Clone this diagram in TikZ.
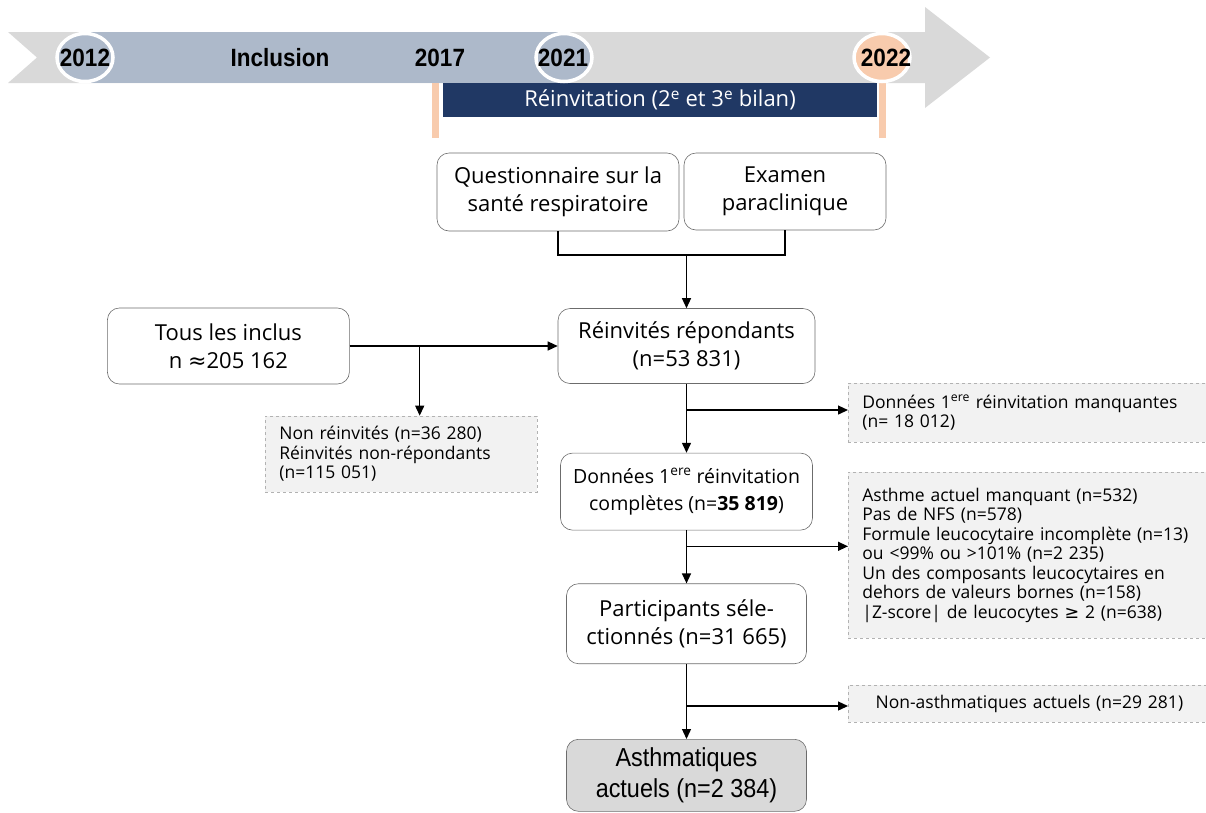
\documentclass[tikz,border=0pt]{standalone}
\usepackage{fontspec}
\setmainfont{Open Sans}
\newfontfamily\yearfont[FakeStretch=0.9]{Liberation Sans}
\newfontfamily\symfont{DejaVu Sans}
\usepackage{tikz}
\usetikzlibrary{positioning}
\usetikzlibrary{calc}
\usetikzlibrary{arrows.meta}
\definecolor{bandgray}{HTML}{D9D9D9}
\definecolor{inclblue}{HTML}{ADB9CA}
\definecolor{navy}{HTML}{203864}
\definecolor{peach}{HTML}{F8CBAD}
\definecolor{boxgray}{HTML}{F2F2F2}
\newcommand{\bigtxt}{\fontsize{22}{28}\selectfont}
\newcommand{\smalltxt}{\fontsize{17.5}{19.5}\selectfont}
\newcommand{\yeartxt}{\yearfont\bfseries\fontsize{25}{28}\selectfont}

\begin{document}
\begin{tikzpicture}[x=1pt, y=-1pt, >={Triangle[length=10pt, width=9pt]},
  mainbox/.style={draw=gray!85!black, line width=0.6pt, rounded corners=12pt, fill=white, align=center, font=\bigtxt, inner sep=0pt},
  sidebox/.style={draw=gray!60, dashed, line width=0.7pt, fill=boxgray, align=left, font=\smalltxt, inner xsep=14pt, inner ysep=0pt, anchor=west},
  flow/.style={line width=1.3pt},
  yearlbl/.style={font=\yeartxt, inner sep=0pt}]
\useasboundingbox (0,0) rectangle (1206,812);
% timeline
\fill[bandgray] (8,32) -- (925,32) -- (925,7) -- (990,57.5) -- (925,108) -- (925,83) -- (8,83) -- (37,57.5) -- cycle;
\fill[inclblue] (87,32) rectangle (564,83);
\fill[peach] (432,83) rectangle (439,138);
\fill[peach] (879,83) rectangle (886,138);
\fill[navy] (443,83) rectangle (877,117);
\filldraw[draw=white, line width=3.5pt, fill=inclblue] (85,57.5) ellipse [x radius=28pt, y radius=24pt];
\filldraw[draw=white, line width=3.5pt, fill=inclblue] (564,57.5) ellipse [x radius=28pt, y radius=24pt];
\filldraw[draw=white, line width=3.5pt, fill=peach] (882,57.5) ellipse [x radius=28pt, y radius=24pt];
\node[yearlbl] (y2012) at (85,57.5) {2012};
\node[yearlbl] (incl) at (280,57.5) {Inclusion};
\node[yearlbl] (y2017) at (440,57.5) {2017};
\node[yearlbl] (y2021) at (563,57.5) {2021};
\node[yearlbl] (y2022) at (886,57.5) {2022};
\node[font=\bigtxt, text=white, inner sep=0pt] (reinv) at (660,100) {Réinvitation (2\textsuperscript{e} et 3\textsuperscript{e} bilan)};

% flow chart
\node[mainbox, minimum width=242pt, minimum height=78pt] (quest) at (558,192) {Questionnaire sur la\\santé respiratoire};
\node[mainbox, minimum width=202pt, minimum height=77pt] (exam) at (785,191.5) {Examen\\paraclinique};
\node[mainbox, minimum width=257pt, minimum height=75pt] (rep) at (686.5,346) {Réinvités répondants\\(n=53 831)};
\node[mainbox, minimum width=242pt, minimum height=76pt, left=208pt of rep] (tous) {Tous les inclus\\n {\symfont ≈}205 162};
\node[mainbox, font=\fontsize{19.5}{27}\selectfont, minimum width=252pt, minimum height=77pt, below=69pt of rep] (comp) {Données 1\textsuperscript{ere} réinvitation\\complètes (n=\textbf{35 819})};
\node[mainbox, minimum width=240pt, minimum height=80pt, below=53pt of comp] (part) {Participants séle-\\ctionnés (n=31 665)};
\node[mainbox, fill=bandgray, font=\yearfont\fontsize{26}{31}\selectfont, minimum width=240pt, minimum height=72pt, below=75pt of part] (asth) {Asthmatiques\\actuels (n=2 384)};

\node[sidebox, text width=244pt, minimum height=76pt] (nonre) at (265,454) {Non réinvités (n=36 280)\\Réinvités non-répondants\\(n=115 051)};
\node[sidebox, text width=334pt, minimum height=59pt] (manq) at (848,412.5) {Données 1\textsuperscript{ere} réinvitation manquantes\\(n= 18 012)};
\node[sidebox, text width=334pt, minimum height=166pt] (excl) at (848,555) {Asthme actuel manquant (n=532)\\Pas de NFS (n=578)\\Formule leucocytaire incomplète (n=13)\\ou <99\% ou >101\% (n=2 235)\\Un des composants leucocytaires en\\dehors de valeurs bornes (n=158)\\|Z-score| de leucocytes {\symfont ≥} 2 (n=638)};
\node[sidebox, align=center, text width=334pt, minimum height=37pt] (nonasth) at (848,703.5) {Non-asthmatiques actuels (n=29 281)};

% connectors
\coordinate (mq) at (686.5,255);
\draw[flow] (quest.south) |- (mq) -| (exam.south);
\draw[flow, ->] (mq) -- (rep.north);
\draw[flow, ->] (tous.east) -- (tous.east -| rep.west);
\coordinate (bt) at ($(tous.east)+(70,0)$);
\draw[flow, ->] (bt) -- (bt |- nonre.north);
\draw[flow, ->] (rep.south) -- (comp.north);
\coordinate (b2) at ($(rep.south)!0.38!(comp.north)$);
\draw[flow, ->] (b2) -- (b2 -| manq.west);
\draw[flow, ->] (comp.south) -- (part.north);
\coordinate (b3) at ($(comp.south)!0.3!(part.north)$);
\draw[flow, ->] (b3) -- (b3 -| excl.west);
\draw[flow, ->] (part.south) -- (asth.north);
\coordinate (b4) at ($(part.south)!0.56!(asth.north)$);
\draw[flow, ->] (b4) -- (b4 -| nonasth.west);
\end{tikzpicture}
\end{document}
